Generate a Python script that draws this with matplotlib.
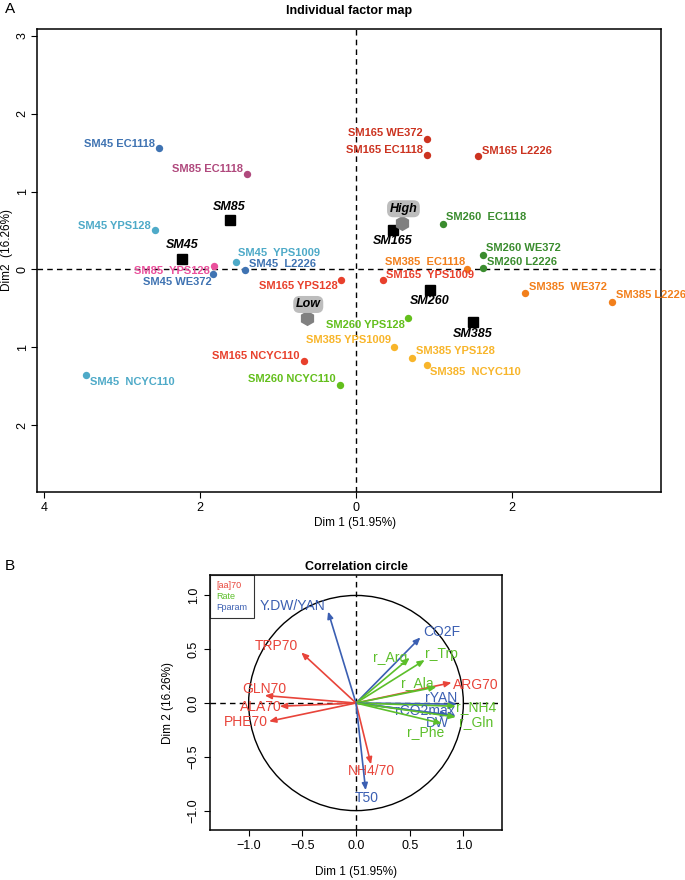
import matplotlib
matplotlib.use("Agg")
import matplotlib.pyplot as plt
from matplotlib.lines import Line2D
from matplotlib.patches import Circle

plt.rcParams['font.family'] = ['Liberation Sans', 'DejaVu Sans']

# ---- panel A: individuals ----
ind_names = ["SM45 EC1118", "SM85 EC1118", "SM45 YPS128", "SM45  YPS1009", "SM45  L2226",
             "SM85  YPS128", "SM45 WE372", "SM165 YPS128", "SM165 NCYC110", "SM260 NCYC110",
             "SM45  NCYC110", "SM165 WE372", "SM165 EC1118", "SM165 L2226", "SM260  EC1118",
             "SM260 WE372", "SM260 L2226", "SM385  EC1118", "SM165  YPS1009", "SM385  WE372",
             "SM385 L2226", "SM260 YPS128", "SM385 YPS1009", "SM385 YPS128", "SM385  NCYC110"]
ind_x = [-2.53, -1.40, -2.58, -1.54, -1.42, -1.82, -1.83, -0.19, -0.67, -0.21,
         -3.46, 0.91, 0.91, 1.56, 1.12, 1.63, 1.63, 1.42, 0.35, 2.17,
         3.28, 0.67, 0.49, 0.72, 0.91]
ind_y = [1.56, 1.23, 0.51, 0.10, -0.01, 0.05, -0.06, -0.13, -1.18, -1.48,
         -1.36, 1.67, 1.47, 1.46, 0.59, 0.19, 0.02, 0.01, -0.14, -0.30,
         -0.42, -0.63, -1.00, -1.14, -1.23]
ind_col = ["#3f73b2", "#b0497d", "#4eaac8", "#4eaac8", "#3f73b2",
           "#ea519c", "#3f73b2", "#e8402c", "#e8402c", "#63bf1c",
           "#4eaac8", "#cc3320", "#cc3320", "#cc3320", "#3a8c2e",
           "#3a8c2e", "#3a8c2e", "#f27f1b", "#e8402c", "#f27f1b",
           "#f27f1b", "#63bf1c", "#f8b52a", "#f8b52a", "#f8b52a"]
# label offsets in pixels (dx, dy) and alignment
lab_dx = [-4, -4, -4, 2, 4, -4, -2, -3, -4, -4, 4, -4, -4, 4, 3, 3, 4, -2, 3, 4, 4, -3, -3, 4, 3]
lab_dy = [4, 5, 4, 9, 6, -5, -8, -6, 5, 6, -7, 6, 5, 5, 7, 7, 6, 7, 5, 6, 7, -7, 7, 7, -7]
lab_ha = ["right", "right", "right", "left", "left", "right", "right", "right", "right", "right",
          "left", "right", "right", "left", "left", "left", "left", "right", "left", "left",
          "left", "right", "right", "left", "left"]

grp_names = ["SM45", "SM85", "SM165", "SM260", "SM385"]
grp_x = [-2.23, -1.62, 0.47, 0.95, 1.50]
grp_y = [0.14, 0.63, 0.51, -0.26, -0.67]
grp_dy = [14, 13, -11, -11, -12]

lvl_names = ["High", "Low"]
lvl_x = [0.59, -0.63]
lvl_y = [0.60, -0.63]

# ---- panel B: variables ----
var_names = ["Y.DW/YAN", "TRP70", "GLN70", "ALA70", "PHE70", "CO2F", "r_Arg", "r_Trp",
             "ARG70", "r_Ala", "rYAN", "r_NH4", "rCO2max", "DW", "r_Gln", "r_Phe", "NH4/70", "T50"]
var_x = [-0.26, -0.51, -0.85, -0.71, -0.81, 0.60, 0.50, 0.64,
         0.89, 0.75, 0.94, 0.93, 0.93, 0.86, 0.93, 0.80, 0.14, 0.09]
var_y = [0.85, 0.47, 0.07, -0.03, -0.17, 0.61, 0.42, 0.40,
         0.19, 0.15, -0.01, -0.03, -0.12, -0.11, -0.13, -0.19, -0.57, -0.81]
var_type = ["F", "aa", "aa", "aa", "aa", "F", "R", "R",
            "aa", "R", "F", "R", "F", "F", "R", "R", "aa", "F"]
var_lx = [-0.59, -0.74, -0.85, -0.89, -1.03, 0.80, 0.32, 0.80,
          1.12, 0.57, 0.79, 1.12, 0.64, 0.76, 1.12, 0.65, 0.14, 0.10]
var_ly = [0.90, 0.53, 0.13, -0.04, -0.18, 0.66, 0.42, 0.46,
          0.17, 0.19, 0.05, -0.04, -0.07, -0.19, -0.18, -0.27, -0.63, -0.88]
type_col = {"aa": "#e8443a", "R": "#5cbf2a", "F": "#3b5fb2"}
type_lab = [("[aa]70", "aa"), ("Rate", "R"), ("Fparam", "F")]

fig = plt.figure(figsize=(6.85, 8.8), dpi=100)

# ---------- A ----------
ax = fig.add_axes([37 / 685, 1 - 492 / 880, 624 / 685, 463 / 880])
ax.set_xlim(-4.09, 3.91)
ax.set_ylim(-2.86, 3.09)
ax.axhline(0, color="black", ls=(0, (4, 3)), lw=1)
ax.axvline(0, color="black", ls=(0, (4, 3)), lw=1)
ax.set_xticks([-4, -2, 0, 2])
ax.set_xticklabels(["4", "2", "0", "2"], fontsize=9)
ax.set_yticks([3, 2, 1, 0, -1, -2])
ax.set_yticklabels(["3", "2", "1", "0", "1", "2"], fontsize=9, rotation=90, va="center")
ax.tick_params(length=4, width=0.8)
ax.tick_params(axis="y", pad=2)
for s in ax.spines.values():
    s.set_linewidth(1.1)

for i in range(len(ind_names)):
    ax.plot(ind_x[i], ind_y[i], "o", ms=5.3, color=ind_col[i], mec="none")
    ax.annotate(ind_names[i], (ind_x[i], ind_y[i]),
                xytext=(lab_dx[i] * 0.72, lab_dy[i] * 0.72), textcoords="offset points",
                ha=lab_ha[i], va="center", fontsize=8, fontweight="bold", color=ind_col[i])

for i in range(len(grp_names)):
    ax.plot(grp_x[i], grp_y[i], "s", ms=7, color="black")
    ax.annotate(grp_names[i], (grp_x[i], grp_y[i]), xytext=(0, grp_dy[i] * 0.72),
                textcoords="offset points", ha="center", va="center",
                fontsize=9, fontweight="bold", fontstyle="italic")

for i in range(len(lvl_names)):
    ax.plot(lvl_x[i], lvl_y[i], "h", ms=11, color="#808080", mec="none")
    ax.annotate(lvl_names[i], (lvl_x[i], lvl_y[i]), xytext=(1, 14 * 0.72),
                textcoords="offset points", ha="center", va="center",
                fontsize=9, fontweight="bold", fontstyle="italic",
                bbox=dict(boxstyle="round,pad=0.2,rounding_size=0.5", fc="#bdbdbd", ec="none"))

fig.text(349 / 685, 1 - 11 / 880, "Individual factor map", ha="center", va="center",
         fontsize=9, fontweight="bold")
fig.text(355 / 685, 1 - 523 / 880, "Dim 1 (51.95%)", ha="center", va="center", fontsize=8.5)
fig.text(7 / 685, 1 - 250 / 880, "Dim2  (16.26%)", ha="center", va="center",
         fontsize=8.5, rotation=90)
fig.text(5 / 685, 1 - 9 / 880, "A", ha="left", va="center", fontsize=11)

# ---------- B ----------
bx = fig.add_axes([210 / 685, 1 - 830 / 880, 292 / 685, 255 / 880])
bx.set_xlim(-1.36, 1.36)
bx.set_ylim(-1.18, 1.19)
bx.axhline(0, color="black", ls=(0, (4, 3)), lw=1)
bx.axvline(0, color="black", ls=(0, (4, 3)), lw=1)
bx.add_patch(Circle((0, 0), 1, fill=False, ec="black", lw=1))
bx.set_xticks([-1.0, -0.5, 0.0, 0.5, 1.0])
bx.set_xticklabels(["\u22121.0", "\u22120.5", "0.0", "0.5", "1.0"], fontsize=9)
bx.set_yticks([-1.0, -0.5, 0.0, 0.5, 1.0])
bx.set_yticklabels(["\u22121.0", "\u22120.5", "0.0", "0.5", "1.0"], fontsize=9,
                   rotation=90, va="center")
bx.tick_params(length=4, width=0.8)
for s in bx.spines.values():
    s.set_linewidth(1.1)

for i in range(len(var_names)):
    c = type_col[var_type[i]]
    bx.annotate("", xy=(var_x[i], var_y[i]), xytext=(0, 0),
                arrowprops=dict(arrowstyle="-|>,head_length=0.4,head_width=0.17",
                                color=c, lw=1.2, shrinkA=0, shrinkB=0))
    bx.text(var_lx[i], var_ly[i], var_names[i], color=c, fontsize=10,
            ha="center", va="center")

handles = [Line2D([], [], ls="none") for _ in type_lab]
leg = bx.legend(handles, [t[0] for t in type_lab], loc="upper left", fontsize=6.5,
                handlelength=0, handletextpad=0, borderpad=0.7, labelspacing=0.2,
                frameon=True, fancybox=False, edgecolor="black", borderaxespad=0)
leg.get_frame().set_linewidth(0.8)
for txt, t in zip(leg.get_texts(), type_lab):
    txt.set_color(type_col[t[1]])

fig.text(356 / 685, 1 - 567 / 880, "Correlation circle", ha="center", va="center",
         fontsize=9, fontweight="bold")
fig.text(356 / 685, 1 - 872 / 880, "Dim 1 (51.95%)", ha="center", va="center", fontsize=8.5)
fig.text(168 / 685, 1 - 703 / 880, "Dim 2 (16.26%)", ha="center", va="center",
         fontsize=8.5, rotation=90)
fig.text(5 / 685, 1 - 566 / 880, "B", ha="left", va="center", fontsize=11)

fig.savefig("out.png", dpi=100)
